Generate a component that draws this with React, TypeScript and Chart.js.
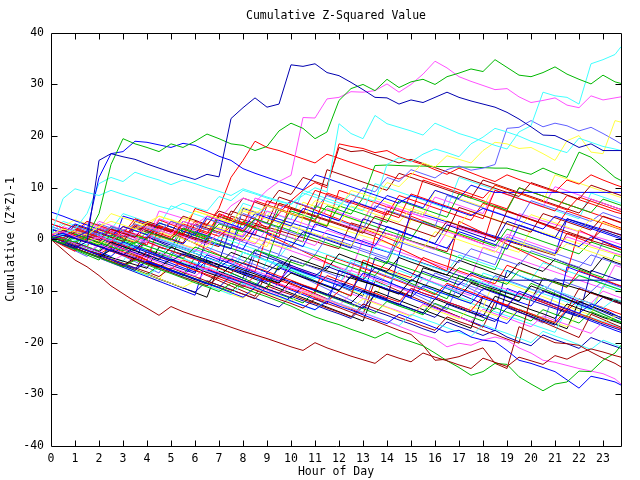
import React, { useEffect, useRef } from "react";
import { Chart, registerables } from "chart.js";

Chart.register(...registerables);

// ---------------- data ----------------
const TITLE = "Cumulative Z-Squared Value";
const X_TITLE = "Hour of Day";
const Y_TITLE = "Cumulative (Z*Z)-1";

const HOURS = [
  0, 0.5, 1, 1.5, 2, 2.5, 3, 3.5, 4, 4.5, 5, 5.5,
  6, 6.5, 7, 7.5, 8, 8.5, 9, 9.5, 10, 10.5, 11, 11.5,
  12, 12.5, 13, 13.5, 14, 14.5, 15, 15.5, 16, 16.5, 17, 17.5,
  18, 18.5, 19, 19.5, 20, 20.5, 21, 21.5, 22, 22.5, 23, 23.5,
  23.75,
];

const X_MIN = 0;
const X_MAX = 23.75;
const Y_MIN = -40;
const Y_MAX = 40;
const X_STEP = 1;
const Y_STEP = 10;

// notable high walks
const NAVY_PEAK = [
  0, 0.8, 0.2, -0.5, 15.3, 16.6, 16, 15.5, 14.6, 13.8, 13, 12.3,
  11.6, 12.6, 12.1, 23.4, 25.5, 27.4, 25.6, 26.2, 33.8, 33.5, 34, 32.3,
  31.7, 30.4, 29, 27.5, 27.4, 26.2, 27, 26.5, 27.5, 28.5, 27.5, 26.8,
  26.2, 25.6, 24.6, 23.3, 21.8, 20.2, 20.1, 19, 17.8, 18.5, 17.2, 17.2,
  17.2,
];
const GREEN_PEAK = [
  0.5, 0, -0.5, 0.5, 5, 14.5, 19.5, 18.5, 17.8, 17, 18.5, 17.8,
  19, 20.4, 19.5, 18.5, 18.2, 17.2, 18, 21, 22.5, 21.5, 19.5, 20.8,
  26.9, 29.2, 30, 28.8, 31, 29.4, 30.5, 31, 30, 31.5, 32.2, 33,
  32.5, 34.8, 33.3, 31.8, 31.5, 32.3, 33.4, 32, 31, 30.1, 31.8, 30.5,
  30.2,
];
const MAGENTA_PEAK = [
  1, 1.5, 0.5, -0.5, 0.5, -0.3, 1.5, 0.8, 2.5, 1.8, 1, 3.5,
  2.8, 4.5, 3.8, 6.5, 8, 7.2, 9.5, 11.2, 12.4, 23.6, 23.5, 27.2,
  27.5, 28.6, 28.5, 28.8, 30.1, 28.5, 30, 32, 34.5, 33.2, 31.5, 30.6,
  29.8, 29, 29.2, 27.6, 26.5, 26.9, 27.4, 26, 25.5, 27.8, 27, 27.4,
  27.6,
];
const CYAN_PEAK = [
  1, 7.9, 9.8, 9.1, 8.5, 9.5, 8.7, 8, 7.2, 6.4, 5.8, 7,
  6.2, 5.5, 8.3, 7.5, 9.5, 8.8, 8, 7.3, 6.8, 8.5, 10, 9.2,
  22.4, 20.5, 19.5, 24, 22.4, 21.7, 21, 20.2, 22.5, 21.5, 20.5, 19.8,
  19, 18.2, 17.5, 20.8, 22, 28.5, 27.8, 27.5, 26.2, 34, 34.8, 35.8,
  37.3,
];
const BLUE_EARLY = [
  0.5, 1.2, 0.4, 1.5, 12, 16.6, 17, 19, 18.8, 18.3, 17.8, 18.6,
  18.2, 17.2, 16.1, 15.3, 13.7, 12.8, 12, 11.2, 10.4, 9.6, 12.5, 11.8,
  11, 10.2, 9.4, 8.6, 7.8, 7, 8.5, 7.8, 7, 6.2, 5.4, 4.6,
  6, 5.2, 4.4, 3.6, 2.8, 2, 4.5, 3.7, 2.9, 2.1, 1.3, 0.5,
  0.1,
];
const CYAN_UPPER = [
  0.5, 1, 2, 5, 10.8, 12, 11.2, 13, 12.2, 11.5, 10.6, 11.5,
  10.8, 10, 9.3, 8.5, 9.8, 9, 8.2, 7.5, 6.8, 9, 8.2, 7.4,
  6.6, 8.8, 8, 7.4, 14.5, 15.8, 15, 16.5, 17.5, 16.8, 16, 18.5,
  19.8, 21.5, 20.8, 20, 19, 18.3, 17.5, 16.8, 19.6, 18.8, 18, 17.5,
  17.2,
];
const YELLOW_UPPER = [
  1, 2, 1.5, 0.8, 2.5, 3.5, 2.8, 2, 3.2, 4.5, 3.8, 3,
  5.5, 4.8, 4, 3.3, 5.8, 5, 6.5, 5.8, 5, 4.3, 7.5, 6.8,
  6, 9.5, 8.8, 8, 11, 10.2, 12.5, 14.8, 14, 16.2, 15.5, 14.8,
  17.2, 18.8, 18.5, 17.6, 17.8, 16.6, 15.3, 19.1, 20.1, 16.9, 16.6, 23,
  22.7,
];
const LAVENDER_UPPER = [
  0, 0.8, 2.5, 1.7, 0.9, 2.5, 1.7, 3, 2.2, 1.4, 3.5, 2.7,
  1.9, 4, 3.2, 2.4, 5, 4.2, 6.5, 5.7, 7.5, 6.7, 5.9, 8.5,
  7.7, 6.9, 10, 9.2, 12, 11.2, 13.5, 12.7, 11.9, 13.5, 14.2, 13.4,
  13.8, 14.5, 21.5, 21.7, 23, 21.8, 22.5, 22, 21, 21.7, 20.5, 19.2,
  18.5,
];
const GREEN_FLAT = [
  0, -0.8, 0.5, -0.3, -1.1, 0.8, 0, -0.8, 1.5, 0.7, -0.1, 2.2,
  1.4, 0.6, 3, 2.2, 1.4, 4, 3.2, 2.4, 5.5, 4.7, 3.9, 6.5,
  5.7, 4.9, 8, 14.3, 14.4, 14.3, 14.2, 14.2, 14.1, 14.1, 14, 14,
  13.9, 13.8, 13.8, 13.2, 12.6, 13.8, 12.8, 12, 16.9, 15.9, 14, 12,
  11.4,
];
const RED_UPPER = [
  0, 1.5, 0.7, -0.1, 2, 1.2, 0.4, 2.8, 2, 1.2, 0.4, 3,
  2.2, 1.4, 0.6, 2.5, 1.7, 4, 2, 5, 7.5, 9.5, 11, 10,
  18.5, 18, 17.6, 16.8, 17.2, 16, 15.2, 14.5, 13.5, 12.6, 13.8, 12.9,
  12, 11.2, 12.5, 11.6, 10.8, 10, 9.2, 11.5, 10.7, 12.5, 11.5, 10.6,
  10.2,
];
const MAROON_UPPER = [
  0.5, -0.3, 1.5, 0.7, -0.1, 2, 1.2, 0.4, 3, 2.2, 1.4, 4.5,
  3.7, 2.9, 5.5, 4.7, 8, 7.2, 6.4, 9.5, 8.7, 12, 11.2, 10.4,
  17.8, 17, 17.2, 16.4, 15.6, 14.8, 15.5, 14.7, 13.9, 13.1, 12.3, 11.5,
  10.7, 9.9, 9.1, 8.3, 11, 10.2, 9.4, 8.6, 7.8, 10.5, 9.7, 8.9,
  8.5,
];
const RED_UPPER_2 = [
  1, 0.2, 2, 1.2, 0.4, -0.4, 1.8, 1, 0.2, 2.5, 1.7, 0.9,
  3.5, 2.7, 6, 12, 15.3, 19, 17.8, 17.2, 16.4, 15.6, 14.8, 16.5,
  15.7, 14.9, 14.1, 13.3, 12.5, 11.7, 12.8, 12, 11.2, 10.4, 9.6, 8.8,
  8, 10.5, 9.7, 8.9, 8.1, 7.3, 6.5, 5.7, 8.2, 7.4, 6.6, 5.8,
  5.4,
];
const BLUE_FLAT = [
  2, 1.2, 3, 2.2, 1.4, 0.6, 2.5, 1.7, 0.9, 3.2, 2.4, 1.6,
  0.8, 4.5, 3.7, 2.9, 2.1, 5, 4.2, 3.4, 2.6, 6, 5.2, 4.4,
  3.6, 7.5, 6.7, 5.9, 8.5, 7.7, 6.9, 6.1, 9.5, 8.7, 7.9, 10.5,
  9.7, 9.1, 9.1, 9.1, 9.1, 9.1, 9.1, 9.1, 9.1, 9.1, 9.1, 9.1,
  9.1,
];
const NAVY_FLAT = [
  0, -0.9, -1.7, -0.4, -1.3, -2.2, -3, -1.6, -2.5, -3.3, -4.2, -2.8,
  -3.7, -4.5, -5.4, -3.8, -4.7, -5.5, -6.4, -4.5, -5.4, -6.2, -7.1, -5.2,
  -6.1, -6.9, -7.8, -5.5, -6.4, -7.2, -8.1, -6.2, -7.1, -7.9, -8.8, -6.5,
  -7.4, -7.9, -7.9, -7.9, -7.9, -7.9, -7.9, -7.9, -7.9, -7.9, -7.9, -7.9,
  -7.9,
];

// notable low walks
const MAROON_LOW = [
  0, -2, -4, -5.3, -7, -9, -10.5, -12, -13.3, -14.7, -13, -14,
  -14.8, -15.5, -16.2, -17, -17.8, -18.5, -19.2, -20, -20.8, -21.5, -20, -21,
  -21.8, -22.6, -23.3, -24, -22.2, -23, -23.7, -22, -22.8, -23.5, -24.3, -25,
  -23, -23.8, -24.6, -22.8, -23.5, -24.2, -22.5, -23.2, -22, -21.2, -21.8, -22.5,
  -22.8,
];
const GREEN_LOW = [
  0, -0.9, -1.8, -2.7, -3.5, -4.4, -5.3, -4, -4.9, -5.8, -6.6, -7.5,
  -8.4, -9.2, -10.1, -8.5, -9.4, -10.3, -11.1, -12, -12.9, -14, -15, -15.8,
  -16.5, -17.4, -18.2, -19.1, -18, -19, -19.8, -20.6, -22, -23.5, -24.8, -26.3,
  -25.6, -24, -24.2, -26.6, -28, -29.3, -28, -27.6, -25.5, -25.6, -23.4, -22,
  -20.5,
];
const BLUE_LOW = [
  0.5, -0.4, -1.3, -2.2, -3, -3.9, -4.8, -5.6, -4.2, -5.1, -6, -6.8,
  -7.7, -8.6, -9.4, -10.3, -11.2, -9.3, -10.2, -11, -11.9, -12.8, -13.6, -12,
  -12.9, -13.7, -14.6, -15.5, -16.3, -14.5, -15.4, -16.2, -17.1, -18, -17.6, -18.9,
  -19.5, -19.8, -21.5, -23.4, -24, -24.8, -25.6, -27.2, -28.8, -26.5, -27, -27.6,
  -28.2,
];
const MAGENTA_LOW = [
  1, 0.1, -0.8, -1.6, -2.5, -1, -1.9, -2.8, -3.6, -4.5, -5.4, -6.2,
  -7.1, -5.5, -6.4, -7.2, -8.1, -9, -9.8, -10.7, -9, -9.9, -10.7, -11.6,
  -12.5, -13.3, -14.2, -15.1, -15.9, -16.8, -17.7, -18.5, -19.2, -20.8, -20.1, -20.5,
  -19.5, -18.9, -19.5, -21, -22, -23.4, -23.8, -24.4, -25, -25.5, -26, -27,
  -28,
];
const MAROON_LOW_2 = [
  0, -0.9, -1.7, -2.6, -3.5, -4.3, -5.2, -3.8, -4.7, -5.5, -6.4, -7.3,
  -8.1, -9, -7.2, -8.1, -9, -9.8, -10.7, -11.6, -12.4, -13.3, -11.5, -12.4,
  -13.2, -14.1, -15, -15.8, -16.7, -17.6, -18.4, -20.5, -23.4, -23.2, -22.7, -21.8,
  -21, -24, -25, -16.9, -18, -19, -20, -20.2, -20.5, -21.8, -23, -24,
  -24.7,
];

// bulk walks
const WALK_01 = [
  3, 2.2, 1.4, 3.5, 2.7, 1.9, 1.1, 4, 3.2, 2.4, 1.6, 0.8,
  6, 5.2, 4.4, 3.6, 2.8, 7.5, 6.7, 5.9, 5.1, 4.3, 3.5, 9,
  8.2, 7.4, 6.6, 5.8, 5, 4.2, 8.8, 8, 7.2, 6.4, 5.6, 4.8,
  4, 9.5, 8.7, 7.9, 7.1, 6.3, 5.5, 8.5, 7.7, 6.9, 6.1, 5.3,
  5,
];
const WALK_02 = [
  0, -0.8, 1, 0.2, -0.6, -1.4, -2.2, -0.5, -1.3, -2.1, -2.9, -3.7,
  -1.5, -2.3, -3.1, -3.9, -4.7, -2, -2.8, -3.6, -4.4, -5.2, -3, -3.8,
  -4.6, -5.4, -6.2, -7, -4.2, -5, -5.8, -6.6, -7.4, -8.2, -5.5, -6.3,
  -7.1, -7.9, -8.7, -6, -6.8, -7.6, -8.4, -9.2, -7, -7.8, -8.6, -9.4,
  -9.8,
];
const WALK_03 = [
  2, 1.1, 0.3, -0.6, -1.4, -2.3, -0.5, -1.4, -2.2, -3.1, -3.9, -4.8,
  -5.6, -3, -3.9, -4.7, -5.6, -6.4, -7.3, -8.1, -5.5, -6.4, -7.2, -8.1,
  -8.9, -9.8, -6.5, -7.4, -8.2, -9.1, -9.9, -10.8, -11.6, -8.8, -9.7, -10.5,
  -11.4, -12.2, -13.1, -10, -10.9, -11.7, -12.6, -13.4, -14.3, -12.5, -13.4, -14.6,
  -15.2,
];
const WALK_04 = [
  0.5, 2.5, 1.7, 0.9, 0.1, 1.8, 1, 0.2, -0.6, 2.2, 1.4, 0.6,
  -0.2, -1, 1.5, 0.7, -0.1, -0.9, 2, 1.2, 0.4, -0.4, -1.2, 1.8,
  1, 0.2, -0.6, -1.4, 1.2, 0.4, -0.4, -1.2, -2, 1.5, 0.7, -0.1,
  -0.9, -1.7, 1, 0.2, -0.6, -1.4, -2.2, 0.5, -0.3, -1.1, -1.9, -2.7,
  -3,
];
const WALK_05 = [
  1.5, 0.6, -0.2, -1.1, 1, 0.1, -0.7, -1.6, -2.4, -3.3, -1, -1.9,
  -2.7, -3.6, -4.4, -5.3, -2.5, -3.4, -4.2, -5.1, -5.9, -6.8, -7.6, -4.8,
  -5.7, -6.5, -7.4, -8.2, -9.1, -6, -6.9, -7.7, -8.6, -9.4, -10.3, -7.5,
  -8.4, -9.2, -10.1, -10.9, -11.8, -9, -9.9, -10.7, -11.6, -12.4, -13.3, -11.5,
  -12,
];
const WALK_06 = [
  1, 0.2, 2.8, 2, 1.2, 0.4, -0.4, 2.5, 1.7, 0.9, 0.1, -0.7,
  3, 2.2, 1.4, 0.6, -0.2, 2.8, 2, 1.2, 6, 5.2, 4.4, 3.6,
  2.8, 2, 1.2, 4.5, 3.7, 2.9, 2.1, 1.3, 0.5, 3.5, 2.7, 1.9,
  1.1, 0.3, 5.5, 4.7, 3.9, 3.1, 2.3, 1.5, 0.7, -0.1, 2, 1.2,
  0.8,
];
const WALK_07 = [
  0, 1.5, 0.7, -0.1, -0.9, 1.2, 0.4, -0.4, 2.5, 1.7, 0.9, 0.1,
  -0.7, -1.5, 1.8, 1, 0.2, -0.6, -1.4, 3.5, 2.7, 1.9, 1.1, 0.3,
  -0.5, -1.3, 2.2, 1.4, 0.6, -0.2, -1, -1.8, 1.5, 0.7, -0.1, -0.9,
  -1.7, -2.5, 0.2, -0.6, -1.4, -2.2, -3, -0.8, -1.6, -2.4, -3.2, -4,
  -4.4,
];
const WALK_08 = [
  0, -0.9, -1.8, -2.6, -3.5, -2, -2.9, -3.7, -4.6, -5.4, -3.8, -4.7,
  -5.5, -6.4, -7.2, -5, -5.9, -6.7, -7.6, -8.4, -6.5, -7.4, -8.2, -9.1,
  -9.9, -7.2, -8.1, -8.9, -9.8, -10.6, -7.8, -8.7, -9.5, -10.4, -11.2, -8.5,
  -9.4, -10.2, -11.1, -11.9, -9, -9.9, -10.7, -11.6, -12.4, -10.2, -11.1, -11.9,
  -12.3,
];
const WALK_09 = [
  1, 0.2, -0.6, 1.5, 0.7, -0.1, -0.9, -1.7, 0.8, 0, -0.8, -1.6,
  -2.4, 0.5, -0.3, -1.1, -1.9, -2.7, 0.2, -0.6, -1.4, -2.2, -3, 0.5,
  -0.3, -1.1, -1.9, -2.7, -3.5, -0.5, -1.3, -2.1, -2.9, -3.7, -4.5, -1.8,
  -2.6, -3.4, -4.2, -5, -2.2, -3, -3.8, -4.6, -5.4, -3, -3.8, -4.6,
  -5,
];
const WALK_10 = [
  0, -0.9, -1.7, -2.6, -3.4, -4.3, -5.1, -6, -4.2, -5.1, -5.9, -6.8,
  -7.6, -8.5, -9.3, -7, -7.9, -8.7, -9.6, -10.4, -11.3, -9, -9.9, -10.7,
  -11.6, -12.4, -13.3, -10.8, -11.7, -12.5, -13.4, -14.2, -15.1, -12.5, -13.4, -14.2,
  -15.1, -15.9, -13.2, -14.1, -14.9, -15.8, -16.6, -13.8, -14.7, -15.5, -16.4, -17.2,
  -17.6,
];
const WALK_11 = [
  4, 3.1, 2.3, 1.4, 0.6, -0.3, -1.1, -2, -0.5, -1.4, -2.2, -3.1,
  -3.9, -4.8, -5.6, -6.5, -4.5, -5.4, -6.2, -7.1, -7.9, -8.8, -9.6, -7,
  -7.9, -8.7, -9.6, -10.4, -11.3, -12.1, -9.5, -10.4, -11.2, -12.1, -12.9, -13.8,
  -11, -11.9, -12.7, -13.6, -14.4, -15.3, -16.1, -13.5, -14.4, -15.2, -16.1, -16.9,
  -17.3,
];
const WALK_12 = [
  1, 0.2, 1.8, 1, 0.2, 2.5, 1.7, 0.9, 0.1, 3.2, 2.4, 1.6,
  0.8, 0, 4.5, 3.7, 2.9, 2.1, 1.3, 5.8, 5, 4.2, 3.4, 2.6,
  6.5, 5.7, 4.9, 4.1, 3.3, 7.5, 6.7, 5.9, 5.1, 4.3, 8.8, 8,
  7.2, 6.4, 5.6, 10, 9.2, 8.4, 7.6, 6.8, 6, 5.2, 7.8, 7,
  6.6,
];
const WALK_13 = [
  5.3, 4.5, 3.6, 2.8, 1.9, 1.1, 0.2, 2.5, 1.7, 0.8, 0, -0.9,
  1.5, 0.7, -0.2, -1, -1.9, 2, 1.2, 0.3, -0.5, -1.4, 3, 2.2,
  1.3, 0.5, -0.4, -1.2, 2.5, 1.7, 0.8, 0, -0.9, -1.7, 1.5, 0.7,
  -0.2, -1, -1.9, 2.8, 2, 1.1, 0.3, -0.6, -1.4, 0.5, -0.3, -1.2,
  -1.6,
];
const WALK_14 = [
  0, -0.9, -1.7, -2.6, -1, -1.9, -2.7, -3.6, -4.4, -2.5, -3.4, -4.2,
  -5.1, -5.9, -3.5, -4.4, -5.2, -6.1, -6.9, -7.8, -5.2, -6.1, -6.9, -7.8,
  -8.6, -6, -6.9, -7.7, -8.6, -9.4, -10.3, -7.5, -8.4, -9.2, -10.1, -10.9,
  -8, -8.9, -9.7, -10.6, -11.4, -9, -9.9, -10.7, -11.6, -12.4, -10, -10.9,
  -11.3,
];
const WALK_15 = [
  0, -0.9, -1.8, -2.6, -3.5, -4.4, -5.2, -6.1, -7, -5.5, -6.4, -7.2,
  -8.1, -9, -9.8, -10.7, -8.5, -9.4, -10.2, -11.1, -12, -12.8, -13.7, -11.5,
  -12.4, -13.2, -14.1, -15, -15.8, -16.7, -14.5, -15.4, -16.2, -17.1, -18, -18.8,
  -16.5, -17.4, -18.2, -19.1, -20, -17.8, -18.7, -19.5, -20.4, -21.3, -19.5, -20.4,
  -20.8,
];
const WALK_16 = [
  0.5, -0.4, -1.2, -2.1, -2.9, -3.8, -4.6, -5.5, -6.3, -7.2, -5.5, -6.4,
  -7.2, -8.1, -8.9, -9.8, -10.6, -11.5, -9, -9.9, -10.7, -11.6, -12.4, -13.3,
  -14.1, -15, -12.5, -13.4, -14.2, -15.1, -15.9, -16.8, -17.6, -15, -15.9, -16.7,
  -17.6, -18.4, -19.3, -20.1, -11, -11.9, -12.7, -13.6, -9.5, -10.4, -11.2, -12.1,
  -12.5,
];
const WALK_17 = [
  0, -0.8, -1.7, -2.5, -3.4, -4.2, -5.1, -5.9, -6.8, -7.6, -8.5, -9.3,
  -8, -8.9, -9.7, -10.6, -11.4, -9.5, -10.4, -11.2, -12.1, -10, -10.9, -11.7,
  -12.6, -13.4, -11.5, -12.4, -13.2, -14.1, -14.9, -12.8, -13.7, -14.5, -15.4, -13,
  -13.9, -14.7, -15.6, -13.5, -14.4, -15.2, -16.1, -16.9, -14.5, -15.4, -16.2, -14.8,
  -15.2,
];
const WALK_18 = [
  1, 0.1, -0.7, -1.6, -2.4, -0.5, -1.4, -2.2, -3.1, -3.9, -1.5, -2.4,
  -3.2, -4.1, -4.9, -2.5, -3.4, -4.2, -5.1, -5.9, -3.2, -4.1, -4.9, -5.8,
  -2.8, -3.7, -4.5, -5.4, -6.2, -3.5, -4.4, -5.2, -6.1, -6.9, -4, -4.9,
  -5.7, -6.6, -7.4, -4.5, -5.4, -6.2, -3.8, -4.7, -5.5, -6.4, -3.5, -4.4,
  -4.8,
];
const WALK_19 = [
  0.5, -0.4, 2, 1.2, 0.3, -0.5, -1.4, -2.2, -0.5, -1.4, -2.2, -3.1,
  -3.9, -1.5, -2.4, -3.2, -4.1, -4.9, -5.8, -3, -3.9, -4.7, -5.6, -6.4,
  -7.3, -4.5, -5.4, -6.2, -7.1, -7.9, -8.8, -9.6, -6.5, -7.4, -8.2, -9.1,
  -9.9, -7, -7.9, -8.7, -9.6, -10.4, -7.5, -8.4, -9.2, -10.1, -8, -8.9,
  -9.3,
];
const WALK_20 = [
  0, -0.8, -1.6, 1, 0.2, -0.6, -1.4, -2.2, 0.5, -0.3, -1.1, -1.9,
  -2.7, -3.5, -4.3, 2.5, 1.7, 0.9, 0.1, -0.7, -1.5, 1.5, 0.7, -0.1,
  -0.9, -1.7, 4, 3.2, 2.4, 1.6, 0.8, 0, -0.8, 2.8, 2, 1.2,
  0.4, -0.4, 3.5, 2.7, 1.9, 1.1, 0.3, 4, 3.2, 2.4, 1.6, 0.8,
  0.4,
];
const WALK_21 = [
  2, 1.1, 0.3, -0.6, -1.4, -2.3, -3.1, -4, -2.5, -3.4, -4.2, -5.1,
  -5.9, -6.8, -7.6, -8.5, -9.3, -7, -7.9, -8.7, -9.6, -10.4, -11.3, -12.1,
  -10, -10.9, -4, -4.9, -5.7, -6.6, -7.4, -3.5, -4.4, -5.2, -6.1, -6.9,
  -7.8, -8.6, -5, -5.9, -6.7, -7.6, -8.4, -9.3, -6, -6.9, -7.7, -8.6,
  -9,
];
const WALK_22 = [
  0, -0.9, -1.7, -2.6, -3.4, -4.3, -5.1, -6, -6.8, -5, -5.9, -6.7,
  -7.6, -8.4, -9.3, -10.1, -8, -8.9, -9.7, -10.6, -11.4, -12.3, -10, -10.9,
  -11.7, -12.6, -13.4, -14.3, -12, -12.9, -13.7, -14.6, -12.4, -13.3, -14.1, -15,
  -15.8, -13.2, -14.1, -14.9, -15.8, -13.6, -14.5, -15.3, -16.2, -14, -14.9, -15.7,
  -16.1,
];
const WALK_23 = [
  0, -0.9, -1.7, -2.6, -3.4, -1.8, -2.7, -3.5, -4.4, -5.2, -6.1, -6.9,
  -5, -5.9, -6.7, -7.6, -8.4, -9.3, -6.5, -7.4, -8.2, -9.1, -9.9, -10.8,
  -8.5, -9.4, -10.2, -11.1, -11.9, -12.8, -9.5, -10.4, -11.2, -12.1, -12.9, -13.8,
  -14.6, -15.5, -16.3, -13.5, -14.4, -15.2, -16.1, -5.3, -6.2, -7, -7.9, -8.7,
  -9.1,
];
const WALK_24 = [
  3, 2.2, 1.4, 0.6, 3.5, 2.7, 1.9, 1.1, 0.3, 4, 3.2, 2.4,
  1.6, 0.8, 3.6, 2.8, 2, 1.2, 5.5, 4.7, 3.9, 3.1, 2.3, 6,
  5.2, 4.4, 3.6, 7.5, 6.7, 5.9, 5.1, 4.3, 8.2, 7.4, 6.6, 5.8,
  5, 9.5, 8.7, 7.9, 7.1, 6.3, 10.2, 9.4, 8.6, 7.8, 7, 6.2,
  5.8,
];
const WALK_25 = [
  0.5, 3, 2.2, 1.4, 0.6, -0.2, -1, 1.8, 1, 0.2, -0.6, -1.4,
  -2.2, -3, 0.5, -0.3, -1.1, -1.9, -2.7, -3.5, -0.5, -1.3, -2.1, -2.9,
  -3.7, -4.5, -5.3, -1.5, -2.3, -3.1, -3.9, -4.7, -5.5, -6.3, -3, -3.8,
  -4.6, -5.4, -6.2, -7, -7.8, -4.5, -5.3, -6.1, -6.9, -7.7, -8.5, -9.3,
  -9.7,
];
const WALK_26 = [
  0, 1.8, 1, 0.2, -0.6, 2, 1.2, 0.4, 3.5, 2.7, 1.9, 1.1,
  0.3, -0.5, 4.5, 3.7, 2.9, 2.1, 1.3, 7, 6.2, 5.4, 4.6, 3.8,
  3, 2.2, 1.4, 0.6, 5.5, 4.7, 3.9, 3.1, 2.3, 1.5, 6.2, 5.4,
  4.6, 3.8, 3, 2.2, 1.4, 5, 4.2, 3.4, 2.6, 1.8, 4.5, 3.7,
  3.3,
];
const WALK_27 = [
  0.5, 2.5, 3.8, 3, 2.2, 5, 4.2, 3.4, 2.6, 4.5, 3.7, 2.9,
  5.5, 4.7, 3.9, 3.1, 6.2, 5.4, 4.6, 7, 6.2, 5.4, 4.6, 3.8,
  3, 6.5, 5.7, 4.9, 4.1, 3.3, 6, 5.2, 4.4, 3.6, 2.8, 5.5,
  4.7, 3.9, 3.1, 2.3, 4.8, 4, 3.2, 2.4, 1.6, 4, 3.2, 2.4,
  2,
];
const WALK_28 = [
  0, -0.9, -1.7, -2.6, -3.4, -4.3, -5.1, -3.5, -4.4, -5.2, -6.1, -6.9,
  -7.8, -8.6, -6.2, -7.1, -7.9, -8.8, -9.6, -10.5, -8, -8.9, -9.7, -10.6,
  -11.4, -12.3, -10, -10.9, -11.7, -12.6, -13.4, -14.3, -11.5, -12.4, -13.2, -14.1,
  -14.9, -11, -11.9, -12.7, -13.6, -14.4, -15.3, -12.5, -13.4, -14.2, -15.1, -15.9,
  -16.3,
];
const WALK_29 = [
  2.5, 1.7, 0.9, 0.1, 2.2, 1.4, 0.6, -0.2, 2.5, 1.7, 0.9, 0.1,
  -0.7, 2.8, 2, 1.2, 0.4, 3.8, 3, 2.2, 1.4, 0.6, 5.2, 4.4,
  3.6, 2.8, 2, 6.5, 5.7, 4.9, 4.1, 3.3, 2.5, 8.5, 7.7, 6.9,
  6.1, 5.3, 4.5, 3.7, 7.5, 6.7, 5.9, 5.1, 4.3, 3.5, 5.2, 4.4,
  4,
];
const WALK_30 = [
  0, -0.9, -1.7, -2.6, -3.4, -4.3, -5.1, -6, -6.8, -7.7, -8.5, -9.4,
  -10.2, -8, -8.9, -9.7, -10.6, -11.4, -12.3, -13.1, -11, -11.9, -12.7, -13.6,
  -14.4, -15.3, -13, -13.9, -14.7, -15.6, -16.4, -17.3, -18.1, -16, -16.9, -17.7,
  -18.6, -17.6, -18.9, -19.8, -20.6, -18.5, -19.4, -20.2, -21.1, -19, -19.9, -20.7,
  -21.1,
];
const WALK_31 = [
  1, 0.2, -0.6, 1.5, 0.7, -0.1, 2.5, 1.7, 0.9, 0.1, 3.5, 2.7,
  1.9, 1.1, 4.8, 4, 3.2, 2.4, 7.5, 6.7, 5.9, 5.1, 9.5, 8.7,
  7.9, 7.1, 6.3, 5.5, 4.7, 8.5, 7.7, 6.9, 6.1, 5.3, 4.5, 3.7,
  7, 6.2, 5.4, 4.6, 3.8, 3, 2.2, 5.5, 4.7, 3.9, 3.1, 2.3,
  1.9,
];
const WALK_32 = [
  0, 1.8, 1, 0.2, -0.6, -1.4, 1.5, 0.7, -0.1, -0.9, -1.7, 2,
  1.2, 0.4, -0.4, -1.2, 3.5, 2.7, 1.9, 1.1, 0.3, -0.5, 6.5, 5.7,
  4.9, 4.1, 3.3, 2.5, 1.7, 0.9, 0.1, 3.5, 2.7, 1.9, 1.1, 0.3,
  -0.5, -1.3, 2, 1.2, 0.4, -0.4, -1.2, -2, -2.8, -0.5, -1.3, -2.1,
  -2.5,
];
const WALK_33 = [
  1, 0.1, -0.7, -1.6, -2.4, -3.3, -1.2, -2.1, -2.9, -3.8, -4.6, -5.5,
  -6.3, -4, -4.9, -5.7, -6.6, -7.4, -8.3, -5.5, -6.4, -7.2, -8.1, -8.9,
  -9.8, -7, -7.9, -8.7, -9.6, -10.4, -11.3, -9, -9.9, -10.7, -11.6, -12.4,
  -9.5, -10.4, -11.2, -12.1, -12.9, -10, -10.9, -11.7, -12.6, -13.4, -11.2, -12.1,
  -12.5,
];
const WALK_34 = [
  0.5, -0.4, -1.2, -2.1, -2.9, -1.5, -2.4, -3.2, -4.1, -4.9, -5.8, -4,
  -4.9, -5.7, -6.6, -7.4, -8.3, -9.1, -7, -7.9, -8.7, -9.6, -10.4, -3,
  -3.9, -4.7, -5.6, -6.4, -7.3, -8.1, -9, -9.8, -10.7, -8.5, -9.4, -10.2,
  -11.1, -11.9, -12.8, -10.5, -11.4, -12.2, -13.1, -13.9, -11.5, -12.4, -13.2, -14.1,
  -14.5,
];
const WALK_35 = [
  0, -0.9, -1.7, -2.6, -3.4, -4.3, -3, -3.9, -4.7, -5.6, -6.4, -7.3,
  -8.1, -6.2, -7.1, -7.9, -8.8, -9.6, -10.5, -8.5, -9.4, -10.2, -11.1, -11.9,
  -12.8, -10.5, -11.4, -12.2, -13.1, -13.9, -14.8, -12.5, -13.4, -14.2, -15.1, -15.9,
  -13.5, -14.4, -15.2, -16.1, -16.9, -14.8, -15.7, -16.5, -17.4, -18.2, -16, -16.9,
  -17.3,
];
const WALK_36 = [
  1.5, 0.7, -0.1, 2.5, 1.7, 0.9, 0.1, 3, 2.2, 1.4, 0.6, 4.2,
  3.4, 2.6, 1.8, 1, 5.5, 4.7, 3.9, 3.1, 2.3, 7.2, 6.4, 5.6,
  4.8, 4, 3.2, 8, 7.2, 6.4, 5.6, 4.8, 9.5, 8.7, 7.9, 7.1,
  6.3, 10.5, 9.7, 8.9, 8.1, 7.3, 12.5, 11.7, 10.9, 10.1, 9.3, 8.5,
  8.1,
];
const WALK_37 = [
  0, -1.2, -2.3, 1.5, 0.4, -0.7, -1.8, -2.9, -4, 2.5, 1.4, 0.3,
  -0.8, -1.9, -3, -4.1, -5.2, -6.3, 1, -0.1, -1.2, -2.3, -3.4, -4.5,
  -5.6, -6.7, -7.8, 0.5, -0.6, -1.7, -2.8, -3.9, -5, -6.1, 3.5, 2.4,
  1.3, 0.2, -0.9, -2, -3.1, -4.2, -5.3, -6.4, 1.8, 0.7, -0.4, -1.5,
  -2,
];
const WALK_38 = [
  1.5, 0.8, 0.1, -0.6, -1.3, -2, 4.5, 3.8, 3.1, 2.4, 1.7, 1,
  0.3, -0.4, -1.1, -1.8, 6, 5.3, 4.6, 3.9, 3.2, 2.5, 1.8, 1.1,
  0.4, -0.3, -1, -1.7, -2.4, -3.1, 5.5, 4.8, 4.1, 3.4, 2.7, 2,
  1.3, 0.6, -0.1, -0.8, -1.5, -2.2, -2.9, 4, 3.3, 2.6, 1.9, 1.2,
  0.9,
];
const WALK_39 = [
  0, -1, -2, -3, -4, -1, -2, -3, -4, -5, -6, -7,
  -3.5, -4.5, -5.5, -6.5, -7.5, -8.5, -9.5, -5, -6, -7, -8, -9,
  -10, -11, -4.5, -5.5, -6.5, -7.5, -8.5, -9.5, -10.5, -11.5, -7, -8,
  -9, -10, -11, -12, -8.5, -9.5, -10.5, -11.5, -12.5, -13.5, -14.5, -15.5,
  -16,
];
const WALK_40 = [
  2, 1.3, 0.6, 3.2, 2.5, 1.8, 1.1, 0.4, -0.3, 5.5, 4.8, 4.1,
  3.4, 2.7, 2, 1.3, 0.6, 8, 7.3, 6.6, 5.9, 5.2, 4.5, 3.8,
  3.1, 2.4, 1.7, 1, 6.5, 5.8, 5.1, 4.4, 3.7, 3, 2.3, 1.6,
  0.9, 0.2, -0.5, 5, 4.3, 3.6, 2.9, 2.2, 1.5, 0.8, 0.1, -0.6,
  -1,
];
const WALK_41 = [
  0, -0.7, -1.4, -2.1, -2.8, -3.5, -4.2, -4.9, -5.6, -1.5, -2.2, -2.9,
  -3.6, -4.3, -5, -5.7, -6.4, -7.1, -7.8, -8.5, -4, -4.7, -5.4, -6.1,
  -6.8, -7.5, -8.2, -8.9, -9.6, -10.3, -11, -5.5, -6.2, -6.9, -7.6, -8.3,
  -9, -9.7, -10.4, -11.1, -11.8, -7.5, -8.2, -8.9, -9.6, -10.3, -11, -11.7,
  -12,
];
const WALK_42 = [
  0.5, -0.3, -1.1, -1.9, -2.7, -3.5, -4.3, -0.5, -1.3, -2.1, -2.9, -3.7,
  -4.5, -5.3, -6.1, -6.9, -2.5, -3.3, -4.1, -4.9, -5.7, -6.5, -7.3, -8.1,
  -8.9, -4, -4.8, -5.6, -6.4, -7.2, -8, -8.8, -9.6, -10.4, -11.2, -12,
  -6.5, -7.3, -8.1, -8.9, -9.7, -10.5, -11.3, -12.1, -12.9, -13.7, -9, -9.8,
  -10.2,
];
const WALK_43 = [
  1, 0, -1, -2, -3, -4, -5, -6, -2, -3, -4, -5,
  -6, -7, -8, -9, -10, -11, -6.5, -7.5, -8.5, -9.5, -10.5, -11.5,
  -12.5, -13.5, -14.5, -8, -9, -10, -11, -12, -13, -14, -15, -16,
  -17, -12, -13, -14, -15, -16, -17, -18, -19, -14.5, -15.5, -16.5,
  -17,
];
const WALK_44 = [
  0.5, 1.8, 1.1, 0.4, -0.3, -1, 2.5, 1.8, 1.1, 0.4, -0.3, -1,
  -1.7, 3, 2.3, 1.6, 0.9, 0.2, -0.5, -1.2, -1.9, 4.2, 3.5, 2.8,
  2.1, 1.4, 0.7, 0, -0.7, -1.4, 3.8, 3.1, 2.4, 1.7, 1, 0.3,
  -0.4, -1.1, -1.8, -2.5, 2, 1.3, 0.6, -0.1, -0.8, -1.5, -2.2, -2.9,
  -3.3,
];
const WALK_45 = [
  0, -1.1, -2.2, -3.3, -1, -2.1, -3.2, -4.3, -5.4, -6.5, -2.5, -3.6,
  -4.7, -5.8, -6.9, -8, -9.1, -3, -4.1, -5.2, -6.3, -7.4, -8.5, -9.6,
  -10.7, -11.8, -12.9, -7, -8.1, -9.2, -10.3, -11.4, -12.5, -13.6, -8.5, -9.6,
  -10.7, -11.8, -12.9, -14, -15.1, -16.2, -10, -11.1, -12.2, -13.3, -14.4, -15.5,
  -16,
];
const WALK_46 = [
  3, 2.2, 1.4, 0.6, -0.2, -1, -1.8, -2.6, -3.4, -4.2, -5, -5.8,
  -6.6, 0.5, -0.3, -1.1, -1.9, -2.7, -3.5, -4.3, -5.1, -5.9, -6.7, -7.5,
  -8.3, -9.1, -9.9, -10.7, -11.5, -3, -3.8, -4.6, -5.4, -6.2, -7, -7.8,
  -8.6, -9.4, -10.2, -11, -11.8, -12.6, -13.4, -14.2, -15, -6, -6.8, -7.6,
  -8,
];
const WALK_47 = [
  0, 1.2, 0.3, -0.6, 2.5, 1.6, 0.7, -0.2, -1.1, 3.8, 2.9, 2,
  1.1, 0.2, 5, 4.1, 3.2, 2.3, 1.4, 0.5, 7.5, 6.6, 5.7, 4.8,
  3.9, 3, 2.1, 1.2, 0.3, -0.6, 4.5, 3.6, 2.7, 1.8, 0.9, 0,
  -0.9, 6.5, 5.6, 4.7, 3.8, 2.9, 2, 1.1, 0.2, -0.7, 3.5, 2.6,
  2.2,
];
const WALK_48 = [
  1, 0.2, -0.6, -1.4, -2.2, 0.5, -0.3, -1.1, -1.9, -2.7, -3.5, 1.5,
  0.7, -0.1, -0.9, -1.7, -2.5, -3.3, -4.1, 2.5, 1.7, 0.9, 0.1, -0.7,
  -1.5, -2.3, -3.1, -3.9, -4.7, 0.5, -0.3, -1.1, -1.9, -2.7, -3.5, -4.3,
  -5.1, -5.9, -1, -1.8, -2.6, -3.4, -4.2, -5, -5.8, -6.6, -7.4, -3,
  -3.4,
];
const WALK_49 = [
  0, -0.9, -1.8, -2.7, -3.6, -4.5, -5.4, -6.3, -7.2, -8.1, -9, -9.9,
  -10.8, -3.5, -4.4, -5.3, -6.2, -7.1, -8, -8.9, -9.8, -10.7, -11.6, -12.5,
  -6, -6.9, -7.8, -8.7, -9.6, -10.5, -11.4, -12.3, -13.2, -14.1, -15, -15.9,
  -16.8, -17.7, -9.5, -10.4, -11.3, -12.2, -13.1, -14, -14.9, -15.8, -16.7, -17.6,
  -18,
];
const WALK_50 = [
  0, -0.8, 1.5, 0.7, -0.1, -0.9, -1.7, -2.5, -3.3, 0.5, -0.3, -1.1,
  -1.9, -2.7, -3.5, -4.3, 1, 0.2, -0.6, -1.4, -2.2, -3, -3.8, -4.6,
  -5.4, -6.2, 0, -0.8, -1.6, -2.4, -3.2, -4, -4.8, -5.6, -6.4, -7.2,
  -1.5, -2.3, -3.1, -3.9, -4.7, -5.5, -6.3, -7.1, -7.9, -8.7, -9.5, -5,
  -5.4,
];
const WALK_51 = [
  1, 3.5, 2.7, 1.9, 1.1, 0.3, -0.5, -1.3, -2.1, -2.9, -3.7, -4.5,
  -5.3, -6.1, -6.9, -7.7, -8.5, -9.3, -4, -4.8, -5.6, -6.4, -7.2, -8,
  -8.8, -9.6, -10.4, -11.2, -12, -12.8, -13.6, -14.4, -10, -10.8, -11.6, -12.4,
  -13.2, -14, -14.8, -15.6, -16.4, -17.2, -18, -13.5, -14.3, -15.1, -15.9, -16.7,
  -17.1,
];
const WALK_52 = [
  0.5, -0.2, 2, 1.3, 0.6, -0.1, -0.8, 3.5, 2.8, 2.1, 1.4, 0.7,
  0, -0.7, -1.4, 4.5, 3.8, 3.1, 2.4, 1.7, 1, 0.3, -0.4, -1.1,
  -1.8, 3.2, 2.5, 1.8, 1.1, 0.4, -0.3, -1, -1.7, -2.4, 2.5, 1.8,
  1.1, 0.4, -0.3, -1, -1.7, -2.4, -3.1, 1.2, 0.5, -0.2, -0.9, -1.6,
  -2,
];
const WALK_53 = [
  0.5, -0.4, -1.3, -2.2, -3.1, -4, -4.9, -5.8, -6.7, -7.6, -8.5, -9.4,
  -10.3, -11.2, -5, -5.9, -6.8, -7.7, -8.6, -9.5, -10.4, -11.3, -12.2, -13.1,
  -14, -14.9, -15.8, -10, -10.9, -11.8, -12.7, -13.6, -14.5, -15.4, -16.3, -17.2,
  -11, -11.9, -12.8, -13.7, -14.6, -15.5, -16.4, -17.3, -12, -12.9, -13.8, -14.7,
  -15.1,
];
const WALK_54 = [
  0, -0.9, -1.8, -2.7, -3.6, -4.5, -5.4, -6.3, -7.2, -8.1, -3, -3.9,
  -4.8, -5.7, -6.6, -7.5, -8.4, -9.3, -10.2, -4.5, -5.4, -6.3, -7.2, -8.1,
  -9, -9.9, -10.8, -11.7, -6, -6.9, -7.8, -8.7, -9.6, -10.5, -11.4, -12.3,
  -13.2, -7.5, -8.4, -9.3, -10.2, -11.1, -12, -12.9, -13.8, -14.7, -9, -9.9,
  -10.3,
];
const WALK_55 = [
  2, 1.2, 0.4, -0.4, 3, 2.2, 1.4, 0.6, -0.2, -1, -1.8, 3.5,
  2.7, 1.9, 1.1, 0.3, -0.5, -1.3, -2.1, -2.9, 2.5, 1.7, 0.9, 0.1,
  -0.7, -1.5, -2.3, -3.1, -3.9, 1.5, 0.7, -0.1, -0.9, -1.7, -2.5, -3.3,
  -4.1, -4.9, 0.5, -0.3, -1.1, -1.9, -2.7, -3.5, -4.3, -5.1, -0.5, -1.3,
  -1.7,
];
const WALK_56 = [
  0, -1, 1.2, 0.2, -0.8, -1.8, -2.8, -3.8, 0.5, -0.5, -1.5, -2.5,
  -3.5, -4.5, -5.5, -6.5, -7.5, -2, -3, -4, -5, -6, -7, -8,
  -9, -10, -11, -3.5, -4.5, -5.5, -6.5, -7.5, -8.5, -9.5, -10.5, -11.5,
  -12.5, -13.5, -6, -7, -8, -9, -10, -11, -12, -13, -14, -15,
  -15.5,
];
const WALK_57 = [
  0.5, -0.3, -1.1, 1.5, 0.7, -0.1, -0.9, 2.2, 1.4, 0.6, -0.2, 3.5,
  2.7, 1.9, 1.1, 5.5, 4.7, 3.9, 3.1, 8.2, 7.4, 6.6, 5.8, 13.5,
  12.7, 11.9, 11.1, 10.3, 9.5, 12.8, 12, 11.2, 10.4, 9.6, 8.8, 8,
  11.5, 10.7, 9.9, 9.1, 8.3, 7.5, 6.7, 5.9, 5.1, 7.8, 7, 6.2,
  5.8,
];
const WALK_58 = [
  0, 1.8, 1, 3.5, 2.7, 1.9, 5, 4.2, 3.4, 2.6, 6.5, 5.7,
  4.9, 4.1, 3.3, 2.5, 7, 6.2, 5.4, 4.6, 3.8, 9.5, 8.7, 7.9,
  7.1, 6.3, 5.5, 10.8, 10, 9.2, 8.4, 7.6, 6.8, 6, 12, 11.2,
  10.4, 9.6, 8.8, 8, 7.2, 6.4, 5.6, 4.8, 4, 9, 8.2, 7.4,
  7,
];
const WALK_59 = [
  1, 0.2, -0.6, -1.4, 1.8, 1, 0.2, -0.6, 3.2, 2.4, 1.6, 0.8,
  0, 4, 3.2, 2.4, 1.6, 0.8, 6.5, 5.7, 4.9, 4.1, 3.3, 2.5,
  9.5, 8.7, 7.9, 7.1, 6.3, 5.5, 4.7, 11.5, 10.7, 9.9, 9.1, 8.3,
  7.5, 6.7, 5.9, 10, 9.2, 8.4, 7.6, 6.8, 6, 5.2, 4.4, 3.6,
  3.2,
];

const SERIES = [
  NAVY_PEAK, GREEN_PEAK, MAGENTA_PEAK, CYAN_PEAK, BLUE_EARLY, CYAN_UPPER,
  YELLOW_UPPER, LAVENDER_UPPER, GREEN_FLAT, RED_UPPER, MAROON_UPPER, RED_UPPER_2,
  BLUE_FLAT, NAVY_FLAT, MAROON_LOW, GREEN_LOW, BLUE_LOW, MAGENTA_LOW, MAROON_LOW_2,
  WALK_01, WALK_02, WALK_03, WALK_04, WALK_05, WALK_06, WALK_07, WALK_08, WALK_09,
  WALK_10, WALK_11, WALK_12, WALK_13, WALK_14, WALK_15, WALK_16, WALK_17, WALK_18,
  WALK_19, WALK_20, WALK_21, WALK_22, WALK_23, WALK_24, WALK_25, WALK_26, WALK_27,
  WALK_28, WALK_29, WALK_30, WALK_31, WALK_32, WALK_33, WALK_34, WALK_35, WALK_36,
  WALK_37, WALK_38, WALK_39, WALK_40, WALK_41, WALK_42, WALK_43, WALK_44, WALK_45,
  WALK_46, WALK_47, WALK_48, WALK_49, WALK_50, WALK_51, WALK_52, WALK_53, WALK_54,
  WALK_55, WALK_56, WALK_57, WALK_58, WALK_59,
];

// ---------------- styles ----------------
const RED = "#ff0000";
const GREEN = "#00b800";
const BLUE = "#0000ff";
const MAGENTA = "#ff50ff";
const CYAN = "#40ffff";
const MAROON = "#a00000";
const YELLOW = "#ffff40";
const BLACK = "#000000";
const LAVENDER = "#6060ff";
const NAVY = "#0000b0";

const SERIES_COLORS = [
  NAVY, GREEN, MAGENTA, CYAN, BLUE, CYAN,
  YELLOW, LAVENDER, GREEN, RED, MAROON, RED,
  BLUE, NAVY, MAROON, GREEN, BLUE, MAGENTA, MAROON,
  RED, GREEN, BLUE, MAGENTA, CYAN, MAROON, YELLOW, BLACK, LAVENDER,
  NAVY, RED, GREEN, BLUE, MAGENTA, CYAN, MAROON, YELLOW, BLACK,
  LAVENDER, NAVY, RED, GREEN, BLUE, MAGENTA, CYAN, MAROON, YELLOW,
  BLACK, LAVENDER, NAVY, RED, GREEN, BLUE, RED, MAGENTA, YELLOW,
  RED, BLUE, GREEN, MAGENTA, BLACK, CYAN, MAROON, YELLOW, LAVENDER,
  NAVY, RED, GREEN, BLUE, MAGENTA, CYAN, MAROON, BLACK, YELLOW,
  LAVENDER, NAVY, MAROON, CYAN, RED,
];

const FONT_FAMILY = "'DejaVu Sans Mono', 'Liberation Mono', monospace";
const FONT = { family: FONT_FAMILY, size: 11.5, weight: "normal" as const };
const TICK_LEN = 6;

const framePlugin = {
  id: "gnuFrame",
  afterDraw(chart: any) {
    const { ctx, chartArea, scales } = chart;
    const l = Math.round(chartArea.left) + 0.5;
    const r = Math.round(chartArea.right) + 0.5;
    const t = Math.round(chartArea.top) + 0.5;
    const b = Math.round(chartArea.bottom) + 0.5;
    ctx.save();
    ctx.strokeStyle = "#000";
    ctx.lineWidth = 1;
    ctx.beginPath();
    ctx.rect(l, t, r - l, b - t);
    scales.x.ticks.forEach((tk: any) => {
      const px = Math.round(scales.x.getPixelForValue(tk.value)) + 0.5;
      if (px <= l + 1 || px >= r - 1) return;
      ctx.moveTo(px, b);
      ctx.lineTo(px, b - TICK_LEN);
      ctx.moveTo(px, t);
      ctx.lineTo(px, t + TICK_LEN);
    });
    scales.y.ticks.forEach((tk: any) => {
      const py = Math.round(scales.y.getPixelForValue(tk.value)) + 0.5;
      if (py <= t + 1 || py >= b - 1) return;
      ctx.moveTo(l, py);
      ctx.lineTo(l + TICK_LEN, py);
      ctx.moveTo(r, py);
      ctx.lineTo(r - TICK_LEN, py);
    });
    ctx.stroke();
    ctx.restore();
  },
};

export default function App() {
  const canvasRef = useRef<HTMLCanvasElement | null>(null);

  useEffect(() => {
    const canvas = canvasRef.current;
    if (!canvas) return;
    const datasets = SERIES.map((vals, i) => ({
      data: vals.map((y, j) => ({ x: HOURS[j], y })),
      borderColor: SERIES_COLORS[i % SERIES_COLORS.length],
      backgroundColor: SERIES_COLORS[i % SERIES_COLORS.length],
      borderWidth: 1,
      pointRadius: 0,
      pointHoverRadius: 0,
      tension: 0,
      fill: false,
    }));
    const chart = new Chart(canvas, {
      type: "line",
      data: { datasets },
      options: {
        responsive: false,
        animation: false,
        devicePixelRatio: 1,
        events: [],
        layout: { padding: { left: 0, right: 19, top: 0, bottom: 0 } },
        plugins: {
          legend: { display: false },
          tooltip: { enabled: false },
          title: {
            display: true,
            text: TITLE,
            fullSize: false,
            color: "#000",
            font: FONT,
            padding: { top: 9.5, bottom: 9.5 },
          },
        },
        scales: {
          x: {
            type: "linear",
            min: X_MIN,
            max: X_MAX,
            afterFit: (s: any) => {
              s.height = 34;
            },
            grid: { display: false, drawTicks: false },
            border: { display: false },
            ticks: {
              stepSize: X_STEP,
              includeBounds: false,
              autoSkip: false,
              maxRotation: 0,
              color: "#000",
              font: FONT,
              padding: 6,
              callback: (v: any) => String(v),
            },
            title: {
              display: true,
              text: X_TITLE,
              color: "#000",
              font: FONT,
              padding: { top: 0, bottom: 1 },
            },
          },
          y: {
            type: "linear",
            min: Y_MIN,
            max: Y_MAX,
            afterFit: (s: any) => {
              s.width = 51;
            },
            grid: { display: false, drawTicks: false },
            border: { display: false },
            ticks: {
              stepSize: Y_STEP,
              color: "#000",
              font: FONT,
              padding: 7,
            },
            title: {
              display: true,
              text: Y_TITLE,
              color: "#000",
              font: FONT,
              padding: { top: 4, bottom: 0 },
            },
          },
        },
      },
      plugins: [framePlugin],
    } as any);
    return () => chart.destroy();
  }, []);

  return (
    <div style={{ position: "fixed", left: 0, top: 0, width: 640, height: 480, background: "#fff" }}>
      <canvas ref={canvasRef} width={640} height={480} style={{ width: 640, height: 480 }} />
    </div>
  );
}
